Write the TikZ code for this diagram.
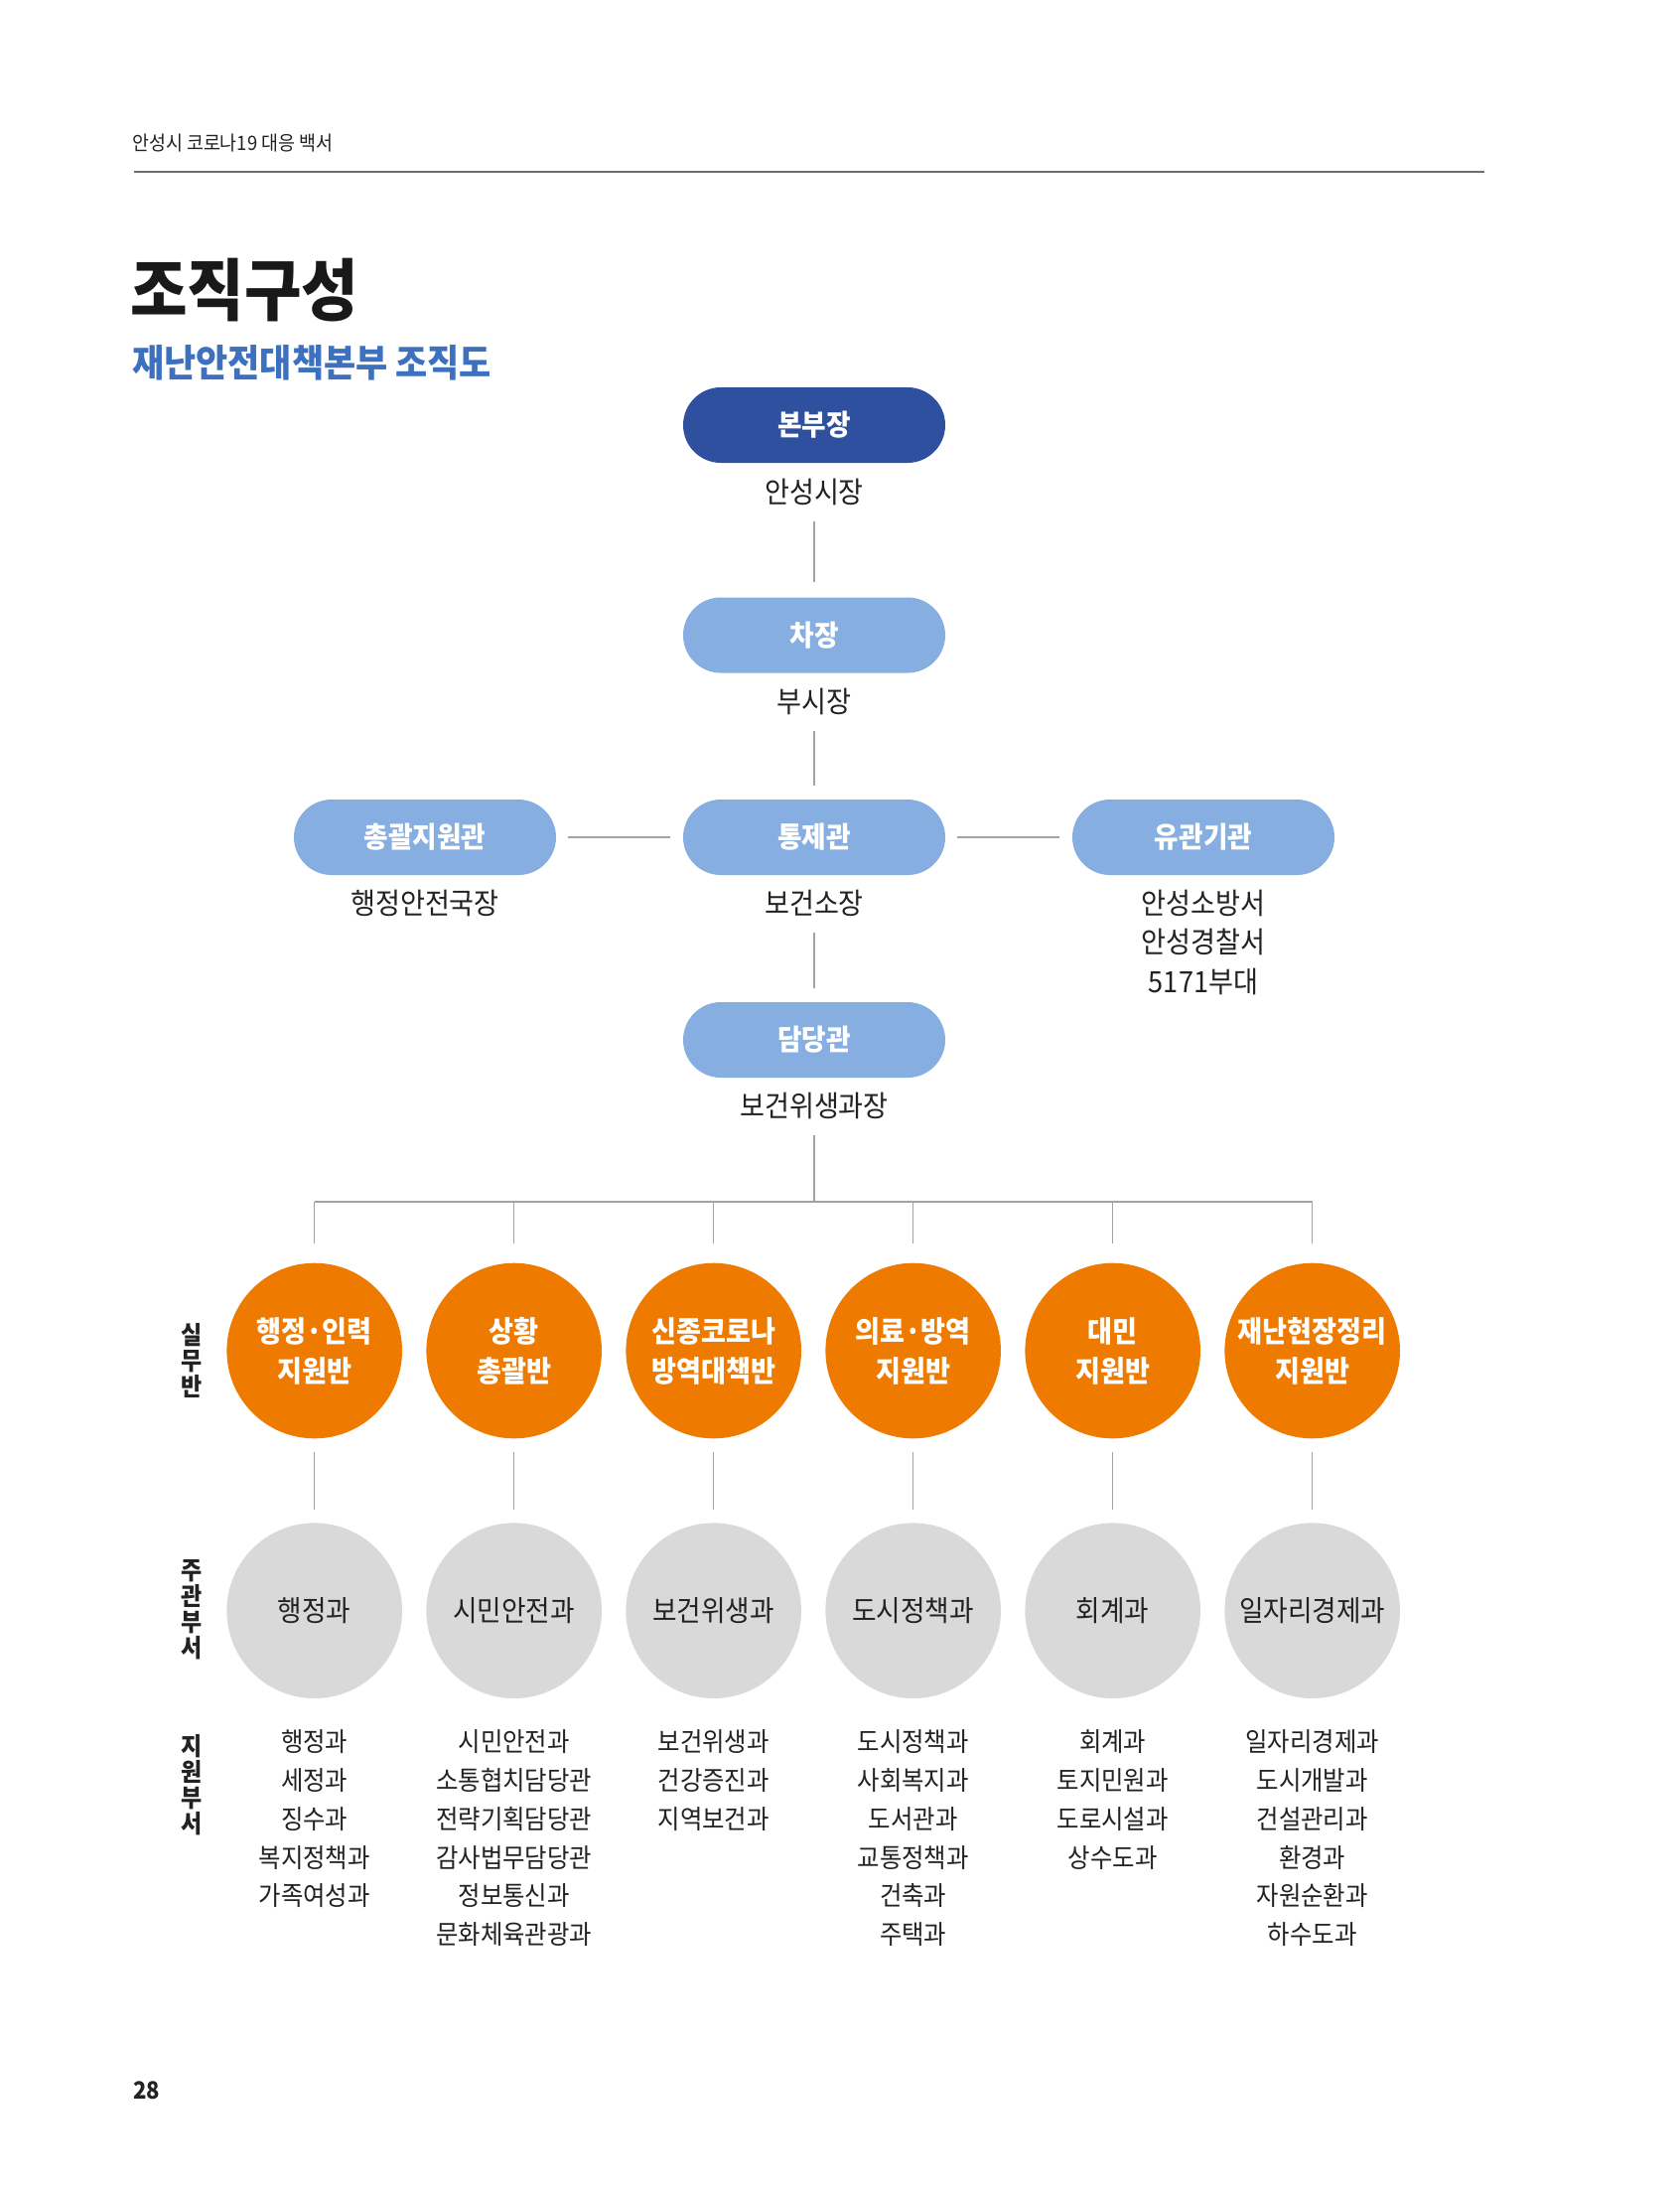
\documentclass[tikz,border=0pt]{standalone}
\usepackage{fontspec}
\setmainfont{Noto Sans CJK KR}[FakeStretch=0.92]
\definecolor{navy}{HTML}{2E509F}
\definecolor{sky}{HTML}{87AEE0}
\definecolor{orng}{HTML}{EE7B00}
\definecolor{lgray}{HTML}{D9D9D9}
\definecolor{ink}{HTML}{222222}
\definecolor{linecol}{HTML}{A3A3A3}
\definecolor{rulecol}{HTML}{6E6E6E}
\definecolor{subblue}{HTML}{3D70BF}
\begin{document}
\begin{tikzpicture}[x=1pt,y=-1pt,
  pill/.style={rectangle, rounded corners=38pt, minimum width=264pt, minimum height=76pt, inner sep=0pt, text=white, font=\fontsize{29}{34}\selectfont\bfseries},
  lab/.style={inner sep=0pt, minimum height=40pt, text=ink, font=\fontsize{29.5}{34}\selectfont},
  orb/.style={circle, minimum size=176.6pt, inner sep=0pt, fill=orng, text=white, align=center, font=\fontsize{29.5}{40}\selectfont\bfseries},
  gorb/.style={circle, minimum size=176.6pt, inner sep=0pt, fill=lgray, text=ink, font=\fontsize{29}{34}\selectfont},
  link/.style={draw=linecol, line width=1.4pt},
  side/.style={align=center, inner sep=0pt, text=ink, font=\fontsize{25}{26}\selectfont\bfseries},
  items/.style={align=center, inner sep=0pt, text=ink, font=\fontsize{26.5}{38.7}\selectfont},
]
\useasboundingbox[fill=white] (0,0) rectangle (1692,2204);

% header
\node[anchor=west, inner sep=0pt, text=ink, font=\fontsize{20}{24}\selectfont] (hdr) at (133,144) {안성시 코로나19 대응 백서};
\draw[draw=rulecol, line width=1.3pt] (135,173) -- (1495,173);
\node[anchor=west, inner sep=0pt, text=black!90, font=\fontsize{68}{70}\selectfont\bfseries] (ttl) at (131,292) {조직구성};
\node[anchor=west, inner sep=0pt, text=subblue, font=\fontsize{38}{42}\selectfont\bfseries] (sub) at (133,365) {재난안전대책본부 조직도};
\node[anchor=west, inner sep=0pt, text=ink, font=\fontsize{24}{26}\selectfont\bfseries] (pg) at (134,2105) {28};

% top hierarchy
\node[pill, fill=navy] (boss) at (820,428) {본부장};
\node[lab] (bossl) at (820,495) {안성시장};
\node[pill, fill=sky] (vice) at (820,639.5) {차장};
\node[lab] (vicel) at (820,706) {부시장};
\node[pill, fill=sky] (gen) at (428,843) {총괄지원관};
\node[pill, fill=sky] (ctl) at (820,843) {통제관};
\node[pill, fill=sky] (rel) at (1212,843) {유관기관};
\node[lab] (genl) at (428,909) {행정안전국장};
\node[lab] (ctll) at (820,909) {보건소장};
\node[lab, align=center, font=\fontsize{29.5}{39.5}\selectfont] (rell) at (1212,948.5) {안성소방서\\안성경찰서\\5171부대};
\node[pill, fill=sky] (mgr) at (820,1047) {담당관};
\node[lab] (mgrl) at (820,1113) {보건위생과장};

\draw[link, shorten <=10pt, shorten >=15pt] (bossl) -- (vice);
\draw[link, shorten <=10pt, shorten >=14pt] (vicel) -- (ctl);
\draw[link, shorten <=12pt, shorten >=13pt] (gen) -- (ctl);
\draw[link, shorten <=12pt, shorten >=13pt] (ctl) -- (rel);
\draw[link, shorten <=10pt, shorten >=14pt] (ctll) -- (mgr);

% bus
\foreach \i/\x in {1/316.7,2/517.7,3/718.7,4/919.7,5/1120.7,6/1321.7}{
  \coordinate (b\i) at (\x,1210);
}
\coordinate (bm) at (820,1210);
\draw[link, shorten <=10pt] (mgrl) -- (bm);
\draw[link] (b1) -- (b6);

% orange circles
\node[orb] (o1) at (316.7,1360) {행정·인력\\지원반};
\node[orb] (o2) at (517.7,1360) {상황\\총괄반};
\node[orb] (o3) at (718.7,1360) {신종코로나\\방역대책반};
\node[orb] (o4) at (919.7,1360) {의료·방역\\지원반};
\node[orb] (o5) at (1120.7,1360) {대민\\지원반};
\node[orb] (o6) at (1321.7,1360) {재난현장정리\\지원반};

% grey circles
\node[gorb] (g1) at (316.7,1621.7) {행정과};
\node[gorb] (g2) at (517.7,1621.7) {시민안전과};
\node[gorb] (g3) at (718.7,1621.7) {보건위생과};
\node[gorb] (g4) at (919.7,1621.7) {도시정책과};
\node[gorb] (g5) at (1120.7,1621.7) {회계과};
\node[gorb] (g6) at (1321.7,1621.7) {일자리경제과};

\foreach \i in {1,...,6}{
  \draw[link, shorten >=19.7pt] (b\i) -- (o\i);
  \draw[link, shorten <=13.7pt, shorten >=13.4pt] (o\i) -- (g\i);
}

% side labels
\node[side] (s1) at (193,1370) {실\\무\\반};
\node[side] (s2) at (193,1621) {주\\관\\부\\서};
\node[side] (s3) at (193,1797) {지\\원\\부\\서};

% support lists
\node[items] (l1) at (316.7,1831.4) {행정과\\세정과\\징수과\\복지정책과\\가족여성과};
\node[items] (l2) at (517.7,1850.75) {시민안전과\\소통협치담당관\\전략기획담당관\\감사법무담당관\\정보통신과\\문화체육관광과};
\node[items] (l3) at (718.7,1792.7) {보건위생과\\건강증진과\\지역보건과};
\node[items] (l4) at (919.7,1850.75) {도시정책과\\사회복지과\\도서관과\\교통정책과\\건축과\\주택과};
\node[items] (l5) at (1120.7,1812.05) {회계과\\토지민원과\\도로시설과\\상수도과};
\node[items] (l6) at (1321.7,1850.75) {일자리경제과\\도시개발과\\건설관리과\\환경과\\자원순환과\\하수도과};
\end{tikzpicture}
\end{document}
